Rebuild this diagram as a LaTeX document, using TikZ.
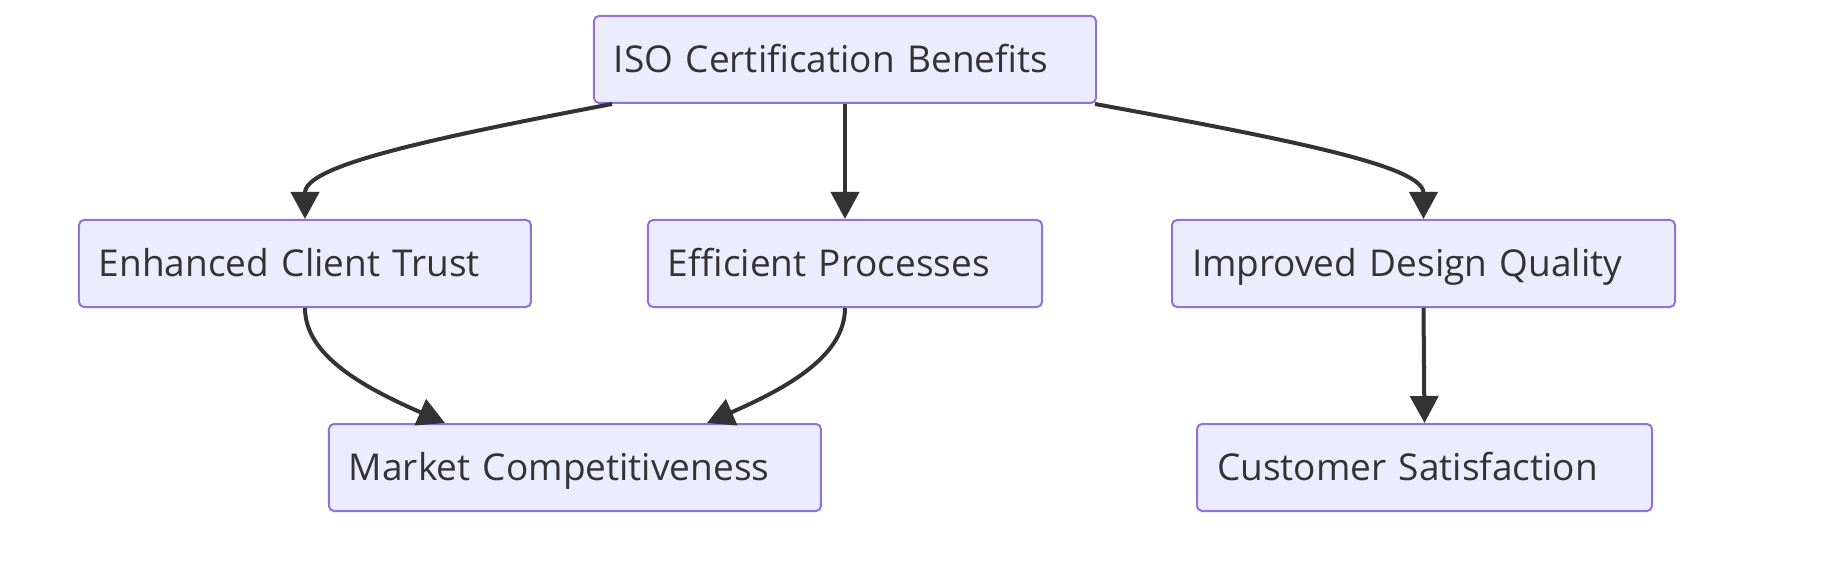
\documentclass[tikz,border=0pt]{standalone}
\usepackage{fontspec}
\setmainfont{Open Sans}
\usetikzlibrary{positioning}
\usetikzlibrary{arrows.meta}
\usetikzlibrary{calc}
\definecolor{boxfill}{HTML}{ECECFF}
\definecolor{boxline}{HTML}{9370DB}
\definecolor{inkgray}{HTML}{333333}
\tikzset{
	box/.style={draw=boxline, fill=boxfill, rectangle, rounded corners=2.5pt, line width=1pt, inner xsep=10pt, text width=#1, align=left, minimum height=43.5pt, text height=13.2pt, text depth=0pt, text=inkgray, font=\fontsize{18.5}{22}\selectfont},
}

\begin{document}
\begin{tikzpicture}[node distance=102pt]
				\useasboundingbox (-422.5pt,29.75pt) rectangle (491pt,-253.75pt);
				
				\node (iso) [box=231pt] at (0,0) {ISO Certification Benefits};
				\node (eff) [box=177pt, below of=iso] {Efficient Processes};
				\node (enh) [box=206pt, below of=iso, xshift=-270pt] {Enhanced Client Trust};
				\node (imp) [box=231.5pt, below of=iso, xshift=289.25pt] {Improved Design Quality};
				\node (mkt) [box=226pt, below of=eff, xshift=-135pt] {Market Competitiveness};
				\node (cust) [box=207.5pt, below of=imp, xshift=0.5pt] {Customer Satisfaction};
				
				\begin{scope}[line width=2pt, inkgray, ->, >={Triangle[length=13.5pt, width=14pt]}]
					\draw ([xshift=9.5pt]iso.south west) .. controls +(-100pt,-19pt) and +(0,26pt) .. (enh.north);
					\draw (iso.south) -- (eff.north);
					\draw ([xshift=-1pt]iso.south east) .. controls +(104pt,-19pt) and +(0,26pt) .. (imp.north);
					\draw (enh.south) .. controls +(0,-24pt) and +(-40pt,17.5pt) .. ([xshift=-65pt]mkt.north);
					\draw (eff.south) .. controls +(0,-24pt) and +(40pt,17.5pt) .. ([xshift=66pt]mkt.north);
					\draw (imp.south) -- (cust.north);
				\end{scope}
				
\end{tikzpicture}
\end{document}
